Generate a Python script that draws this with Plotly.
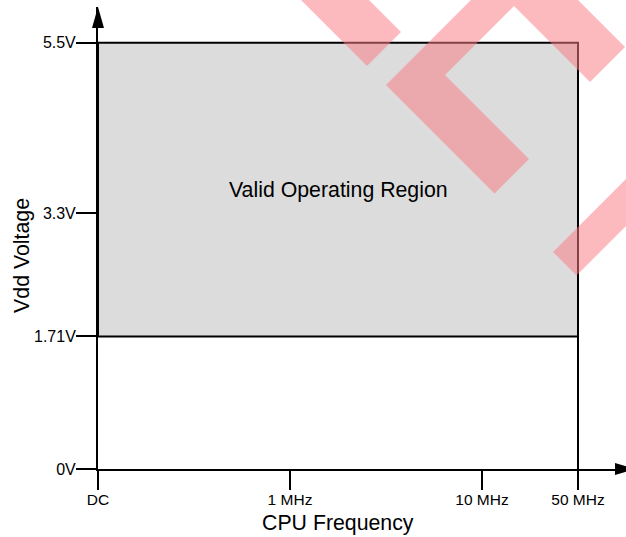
import plotly.graph_objects as go

# ---- chart content -------------------------------------------------------
# Frequency axis is schematic: each labelled frequency sits at a fixed slot
freq_labels = ["DC", "1 MHz", "10 MHz", "50 MHz"]
freq_pos = [0, 1, 2, 2.5]

# Supply-voltage ticks
volt_values = [0, 1.71, 3.3, 5.5]
volt_labels = ["0V", "1.71V", "3.3V", "5.5V"]

# Valid operating window (DC .. 50 MHz, 1.71 V .. 5.5 V)
vdd_min = 1.71
vdd_max = 5.5
f_lo = freq_pos[0]
f_hi = freq_pos[-1]

region_label = "Valid Operating Region"
x_title = "CPU Frequency"
y_title = "Vdd Voltage"

# ---- geometry --------------------------------------------------------------
W, H = 626, 537
M_L, M_R, M_T, M_B = 98, 0, 7, 68
PX_PER_F = 192.0
PX_PER_V = 77.5
plot_w = W - M_L - M_R
plot_h = H - M_T - M_B
x_max = plot_w / PX_PER_F
y_max = plot_h / PX_PER_V

FONT = "Liberation Sans, Arial, sans-serif"
INK = "#000000"
REGION_FILL = "#dcdcdc"
STAMP = "rgba(250,123,132,0.53)"
TITLE_SIZE = 21.3
X_TICK_SIZE = 15.5
Y_TICK_SIZE = 16

# Diagonal stamp bands across the upper right, in page pixels
stamp_bands = [
    [(281, -20), (349, -20), (401, 32), (367, 66)],
    [(386, 85), (524.5, -53.5), (625, 47), (590, 82), (514, 6),
     (445, 75), (529, 159), (494.5, 193.5)],
    [(553, 252), (660, 145), (660, 192), (576.5, 275.5)],
]


def page_to_paper(pts):
    return [((px - M_L) / plot_w, (H - M_B - py) / plot_h) for px, py in pts]


def path_of(pts):
    return "M " + " L ".join(f"{x:.5f},{y:.5f}" for x, y in pts) + " Z"


fig = go.Figure()
fig.add_trace(go.Scatter(x=[f_lo], y=[0], mode="markers",
                         marker=dict(opacity=0), hoverinfo="skip",
                         showlegend=False))

shapes = [
    # operating region
    dict(type="rect", xref="x", yref="y", x0=f_lo, x1=f_hi,
         y0=vdd_min, y1=vdd_max, fillcolor=REGION_FILL,
         line=dict(color=INK, width=2), layer="below"),
    # 50 MHz limit down to the frequency axis
    dict(type="line", xref="x", yref="y", x0=f_hi, x1=f_hi, y0=0, y1=vdd_max,
         line=dict(color=INK, width=2)),
    # arrow heads at the ends of both axes
    dict(type="path", xref="paper", yref="paper", xsizemode="pixel",
         ysizemode="pixel", xanchor=0, yanchor=1,
         path="M 0,0 L -6,-21 L 6,-21 Z", fillcolor=INK,
         line=dict(width=0), layer="above"),
    dict(type="path", xref="paper", yref="paper", xsizemode="pixel",
         ysizemode="pixel", xanchor=1, yanchor=0,
         path="M 10,0 L -11,6 L -11,-6 Z", fillcolor=INK,
         line=dict(width=0), layer="above"),
]
for band in stamp_bands:
    shapes.append(dict(type="path", xref="paper", yref="paper",
                       path=path_of(page_to_paper(band)),
                       fillcolor=STAMP, line=dict(width=0), layer="above"))

annotations = [
    dict(text=region_label, x=(f_lo + f_hi) / 2, y=(vdd_min + vdd_max) / 2,
         xref="x", yref="y", showarrow=False,
         font=dict(family=FONT, size=TITLE_SIZE, color=INK)),
    dict(text=x_title, x=(f_lo + f_hi) / 2, y=(469 - 523) / plot_h,
         xref="x", yref="paper", showarrow=False, yanchor="middle",
         font=dict(family=FONT, size=TITLE_SIZE, color=INK)),
    dict(text=y_title, x=(22 - M_L) / plot_w, y=vdd_max / 2,
         xref="paper", yref="y", showarrow=False, textangle=-90,
         xanchor="center", yanchor="middle",
         font=dict(family=FONT, size=TITLE_SIZE, color=INK)),
]

fig.update_layout(
    width=W, height=H,
    margin=dict(l=M_L, r=M_R, t=M_T, b=M_B, pad=0),
    paper_bgcolor="white", plot_bgcolor="white",
    showlegend=False,
    shapes=shapes, annotations=annotations,
    xaxis=dict(range=[0, x_max], tickmode="array", tickvals=freq_pos,
               ticktext=freq_labels, ticks="outside", ticklen=19,
               tickwidth=2, tickcolor=INK, showline=True, linecolor=INK,
               linewidth=2, showgrid=False, zeroline=False,
               ticklabelstandoff=-4,
               tickfont=dict(family=FONT, size=X_TICK_SIZE, color=INK),
               fixedrange=True),
    yaxis=dict(range=[0, y_max], tickmode="array", tickvals=volt_values,
               ticktext=volt_labels, ticks="outside", ticklen=20,
               tickwidth=2, tickcolor=INK, showline=True, linecolor=INK,
               linewidth=2, showgrid=False, zeroline=False,
               ticklabelstandoff=-3,
               tickfont=dict(family=FONT, size=Y_TICK_SIZE, color=INK),
               fixedrange=True),
)

fig.write_html("out.html", config={"displayModeBar": False})
